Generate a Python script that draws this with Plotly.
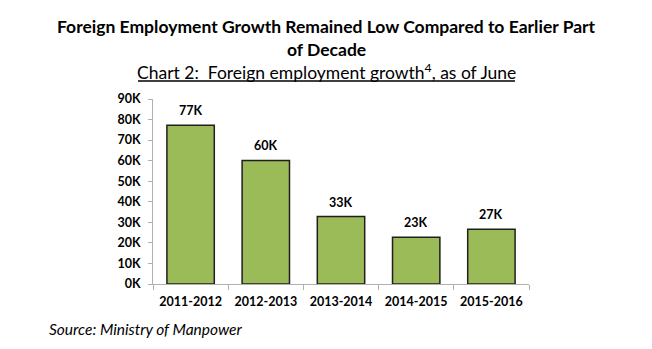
import plotly.graph_objects as go

categories = ["2011-2012", "2012-2013", "2013-2014", "2014-2015", "2015-2016"]
growth_k = [77.2, 60.1, 32.8, 22.7, 26.6]
bar_labels = ["77K", "60K", "33K", "23K", "27K"]
y_ticks = [0, 10, 20, 30, 40, 50, 60, 70, 80, 90]
y_tick_text = ["0K", "10K", "20K", "30K", "40K", "50K", "60K", "70K", "80K", "90K"]

FONT = "Lato"

W, H = 652, 349
L, R, T, B = 153, 123, 99, 65
pw, ph = W - L - R, H - T - B

def px(x):
    return (x - L) / pw

def py(y):
    return (H - B - y) / ph

fig = go.Figure()
fig.add_trace(go.Bar(
    x=categories, y=growth_k, width=0.63,
    marker=dict(color="#9BBB59", line=dict(color="#1f1f1f", width=1.5)),
    hoverinfo="skip",
))

for c, v, t in zip(categories, growth_k, bar_labels):
    fig.add_annotation(x=c, y=v, text="<b>" + t + "</b>", showarrow=False,
                       yanchor="bottom", yshift=5,
                       font=dict(family=FONT, size=12.5, color="#000"))

fig.update_layout(
    width=W, height=H,
    margin=dict(l=L, r=R, t=T, b=B),
    paper_bgcolor="white", plot_bgcolor="white",
    showlegend=False,
    font=dict(family=FONT, color="#000"),
    xaxis=dict(
        type="category", range=[-0.5, 4.5],
        showline=True, linecolor="#b0b0b0", linewidth=1,
        ticks="outside", tickson="boundaries", ticklen=5, tickcolor="#b0b0b0",
        ticklabelstandoff=6,
        tickfont=dict(family=FONT, size=12.5, color="#000", weight="bold"),
        showgrid=False, zeroline=False, fixedrange=True,
    ),
    yaxis=dict(
        range=[0, 90], tickmode="array", tickvals=y_ticks, ticktext=y_tick_text,
        showline=True, linecolor="#b0b0b0", linewidth=1,
        ticks="outside", ticklen=4, tickcolor="#b0b0b0",
        ticklabelstandoff=5,
        tickfont=dict(family=FONT, size=12.5, color="#000", weight="bold"),
        showgrid=False, zeroline=False, fixedrange=True,
    ),
)

fig.add_annotation(xref="paper", yref="paper", x=px(326), y=py(26), xanchor="center", yanchor="middle",
                   text="<b>Foreign Employment Growth Remained Low Compared to Earlier Part</b>",
                   showarrow=False, font=dict(family=FONT, size=17.5, color="#000"))
fig.add_annotation(xref="paper", yref="paper", x=px(326), y=py(49), xanchor="center", yanchor="middle",
                   text="<b>of Decade</b>",
                   showarrow=False, font=dict(family=FONT, size=17.5, color="#000"))
fig.add_annotation(xref="paper", yref="paper", x=px(326), y=py(72), xanchor="center", yanchor="middle",
                   text="Chart 2:  Foreign employment growth<sup>4</sup>, as of June",
                   showarrow=False, font=dict(family=FONT, size=17.5, color="#000"))
fig.add_shape(type="line", xref="paper", yref="paper", x0=px(138), x1=px(515), y0=py(81), y1=py(81),
              line=dict(color="#000", width=1.5))
fig.add_annotation(xref="paper", yref="paper", x=px(47), y=py(329), xanchor="left", yanchor="middle",
                   text="<i>Source: Ministry of Manpower</i>",
                   showarrow=False, font=dict(family=FONT, size=15.5, color="#000"))

fig.write_html("out.html")
